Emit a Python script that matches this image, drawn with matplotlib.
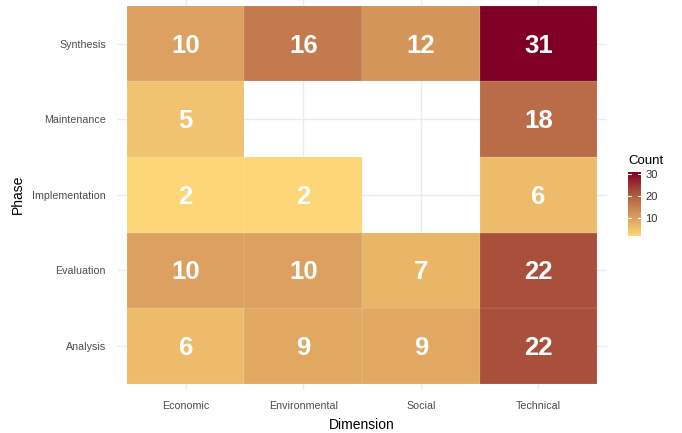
import numpy as np
import matplotlib
matplotlib.use("Agg")
import matplotlib.pyplot as plt
from matplotlib.colors import LinearSegmentedColormap, Normalize

plt.rcParams["font.family"] = ["Liberation Sans", "DejaVu Sans"]

# donnees
dimensions = ["Economic", "Environmental", "Social", "Technical"]
phases = ["Analysis", "Evaluation", "Implementation", "Maintenance", "Synthesis"]
# une ligne par phase (de bas en haut), une colonne par dimension ; nan = pas de tuile
counts = [
    [6, 9, 9, 22],
    [10, 10, 7, 22],
    [2, 2, np.nan, 6],
    [5, np.nan, np.nan, 18],
    [10, 16, 12, 31],
]

vmin, vmax = 2, 31

# degrade jaune -> bordeaux (points de controle echantillonnes)
ancres = [
    (2, "#FDD777"), (5, "#F1C270"), (7, "#E9B566"), (10, "#DCA160"),
    (12, "#D4955B"), (16, "#C47A4F"), (18, "#BA6C48"), (22, "#A9503C"),
    (31, "#800025"),
]
cmap = LinearSegmentedColormap.from_list(
    "count", [((v - vmin) / (vmax - vmin), c) for v, c in ancres])
norm = Normalize(vmin=vmin, vmax=vmax)

fig = plt.figure(figsize=(6.82, 4.33), dpi=100)
# panneau : x 117..607 px, y -0.5..390 px
ax = fig.add_axes([117 / 682, 1 - 390 / 433, 490 / 682, 390.5 / 433])

data = np.array(counts, dtype=float)
taille_chiffres = 18.5
# decalage pour centrer la hauteur des chiffres (pas la boite de texte)
demi_cap = 0.716 * taille_chiffres * 100 / 72 / 2 / 75.4
for i, phase in enumerate(phases):
    for j, dim in enumerate(dimensions):
        v = data[i, j]
        if np.isnan(v):
            continue
        ax.add_patch(plt.Rectangle((j - 0.5, i - 0.5), 1, 1,
                                   facecolor=cmap(norm(v)), edgecolor=(1, 1, 1, 0.25),
                                   linewidth=0.3, zorder=2))
        ax.text(j, i - demi_cap, f"{int(v)}", ha="center", va="baseline",
                color="white", fontsize=taille_chiffres, fontweight="bold", zorder=3)

ax.set_xlim(-0.585, 3.585)
ax.set_ylim(-0.585, 4.585)
ax.set_xticks(range(len(dimensions)))
ax.set_xticklabels(dimensions)
ax.set_yticks(range(len(phases)))
ax.set_yticklabels(phases)
ax.grid(True, color="#EBEBEB", linewidth=1, zorder=0)
ax.set_axisbelow(True)
for s in ax.spines.values():
    s.set_visible(False)
ax.tick_params(length=0, labelsize=7.7, labelcolor="#4D4D4D", pad=8)
ax.set_xlabel("Dimension", fontsize=10, labelpad=5)
ax.set_ylabel("Phase", fontsize=10, labelpad=5)

# legende
cax = fig.add_axes([628 / 682, 1 - 236 / 433, 13 / 682, 64 / 433])
grad = np.linspace(vmin, vmax, 256).reshape(-1, 1)
cax.imshow(grad, aspect="auto", cmap=cmap, norm=norm, origin="lower",
           extent=[0, 1, vmin, vmax])
cax.set_xticks([])
cax.set_yticks([10, 20, 30])
cax.yaxis.tick_right()
cax.tick_params(axis="y", length=0, labelsize=8, labelcolor="#333333", pad=3)
for t in [10, 20, 30]:
    cax.plot([0, 0.2], [t, t], color="white", linewidth=0.8)
    cax.plot([0.8, 1], [t, t], color="white", linewidth=0.8)
cax.set_xlim(0, 1)
cax.set_ylim(vmin, vmax)
for s in cax.spines.values():
    s.set_visible(False)
fig.text(628 / 682, 1 - 161 / 433, "Count", fontsize=9.5, ha="left", va="center")

fig.savefig("out.png", dpi=100)
